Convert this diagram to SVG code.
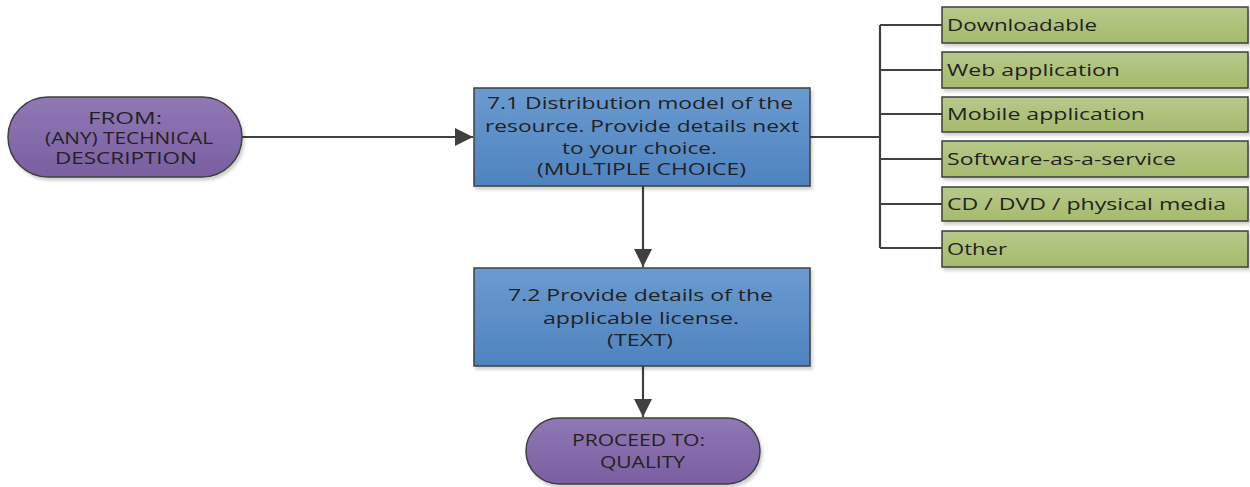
<svg xmlns="http://www.w3.org/2000/svg" width="1250" height="487" viewBox="0 0 1250 487">
  <defs>
    <linearGradient id="gPurple" x1="0" y1="0" x2="0" y2="1">
      <stop offset="0" stop-color="#8f78b5"/>
      <stop offset="1" stop-color="#7a5fa0"/>
    </linearGradient>
    <linearGradient id="gBlue" x1="0" y1="0" x2="0" y2="1">
      <stop offset="0" stop-color="#6a9bd0"/>
      <stop offset="1" stop-color="#4f83bf"/>
    </linearGradient>
    <linearGradient id="gGreen" x1="0" y1="0" x2="0" y2="1">
      <stop offset="0" stop-color="#b7c98a"/>
      <stop offset="1" stop-color="#a5bb6c"/>
    </linearGradient>
    <filter id="shadow" x="-10%" y="-10%" width="125%" height="140%">
      <feDropShadow dx="2" dy="3" stdDeviation="1.5" flood-color="#000" flood-opacity="0.18"/>
    </filter>
    <marker id="arrowBig" viewBox="0 0 10 10" refX="10" refY="5" markerWidth="18" markerHeight="18" markerUnits="userSpaceOnUse" orient="auto">
      <path d="M0,0 L10,5 L0,10 z" fill="#404040"/>
    </marker>
  </defs>
  <style>
    .term { fill: url(#gPurple); stroke: #3f3f3f; stroke-width: 1.5; filter: url(#shadow); }
    .step { fill: url(#gBlue); stroke: #3f3f3f; stroke-width: 1.5; filter: url(#shadow); }
    .opt { fill: url(#gGreen); stroke: #3f3f3f; stroke-width: 1.5; filter: url(#shadow); }
    text { font-family: "Open Sans", "Liberation Sans", sans-serif; fill: #222; }
    .c { font-size: 16px; }
    .l { font-size: 17px; }
    .wire { fill: none; stroke: #404040; stroke-width: 2.2; }
  </style>

  <!-- connectors -->
  <g id="connectors">
    <line class="wire" x1="242" y1="137" x2="473" y2="137" marker-end="url(#arrowBig)"/>
    <line class="wire" x1="643" y1="186" x2="643" y2="267" marker-end="url(#arrowBig)"/>
    <line class="wire" x1="643" y1="366" x2="643" y2="417" marker-end="url(#arrowBig)"/>
    <path class="wire" d="M810,137 H880"/>
    <path class="wire" d="M880,25 V248"/>
    <path class="wire" d="M880,25 H942 M880,70 H942 M880,114 H942 M880,159 H942 M880,204 H942 M880,248 H942"/>
  </g>

  <!-- start terminator -->
  <g id="from">
    <rect class="term" x="8" y="97" width="234" height="80" rx="40" ry="40"/>
    <text class="c" x="88" y="124" textLength="74" lengthAdjust="spacingAndGlyphs">FROM:</text>
    <text class="c" x="45" y="144" textLength="168" lengthAdjust="spacingAndGlyphs">(ANY) TECHNICAL</text>
    <text class="c" x="55" y="164" textLength="142" lengthAdjust="spacingAndGlyphs">DESCRIPTION</text>
  </g>

  <!-- question 7.1 -->
  <g id="q71">
    <rect class="step" x="474" y="88" width="336" height="98"/>
    <text class="c" x="487" y="109" textLength="306" lengthAdjust="spacingAndGlyphs">7.1 Distribution model of the</text>
    <text class="c" x="485" y="132" textLength="314" lengthAdjust="spacingAndGlyphs">resource. Provide details next</text>
    <text class="c" x="562" y="154" textLength="155" lengthAdjust="spacingAndGlyphs">to your choice.</text>
    <text class="c" x="537" y="175" textLength="209" lengthAdjust="spacingAndGlyphs">(MULTIPLE CHOICE)</text>
  </g>

  <!-- question 7.2 -->
  <g id="q72">
    <rect class="step" x="474" y="268" width="336" height="98"/>
    <text class="c" x="508" y="301" textLength="265" lengthAdjust="spacingAndGlyphs">7.2 Provide details of the</text>
    <text class="c" x="543" y="324" textLength="196" lengthAdjust="spacingAndGlyphs">applicable license.</text>
    <text class="c" x="607" y="346" textLength="66" lengthAdjust="spacingAndGlyphs">(TEXT)</text>
  </g>

  <!-- end terminator -->
  <g id="proceed">
    <rect class="term" x="526" y="418" width="234" height="66" rx="33" ry="33"/>
    <text class="c" x="572" y="446" textLength="133" lengthAdjust="spacingAndGlyphs">PROCEED TO:</text>
    <text class="c" x="600" y="468" textLength="85" lengthAdjust="spacingAndGlyphs">QUALITY</text>
  </g>

  <!-- choices -->
  <g id="opt-downloadable">
    <rect class="opt" x="942" y="7" width="306" height="36"/>
    <text class="l" x="947" y="31" textLength="150" lengthAdjust="spacingAndGlyphs">Downloadable</text>
  </g>
  <g id="opt-web">
    <rect class="opt" x="942" y="52" width="306" height="36"/>
    <text class="l" x="947" y="76" textLength="173" lengthAdjust="spacingAndGlyphs">Web application</text>
  </g>
  <g id="opt-mobile">
    <rect class="opt" x="942" y="97" width="306" height="35"/>
    <text class="l" x="947" y="120" textLength="198" lengthAdjust="spacingAndGlyphs">Mobile application</text>
  </g>
  <g id="opt-saas">
    <rect class="opt" x="942" y="141" width="306" height="36"/>
    <text class="l" x="947" y="165" textLength="229" lengthAdjust="spacingAndGlyphs">Software-as-a-service</text>
  </g>
  <g id="opt-media">
    <rect class="opt" x="942" y="187" width="306" height="34"/>
    <text class="l" x="947" y="210" textLength="279" lengthAdjust="spacingAndGlyphs">CD / DVD / physical media</text>
  </g>
  <g id="opt-other">
    <rect class="opt" x="942" y="231" width="306" height="36"/>
    <text class="l" x="947" y="255" textLength="60" lengthAdjust="spacingAndGlyphs">Other</text>
  </g>
</svg>
